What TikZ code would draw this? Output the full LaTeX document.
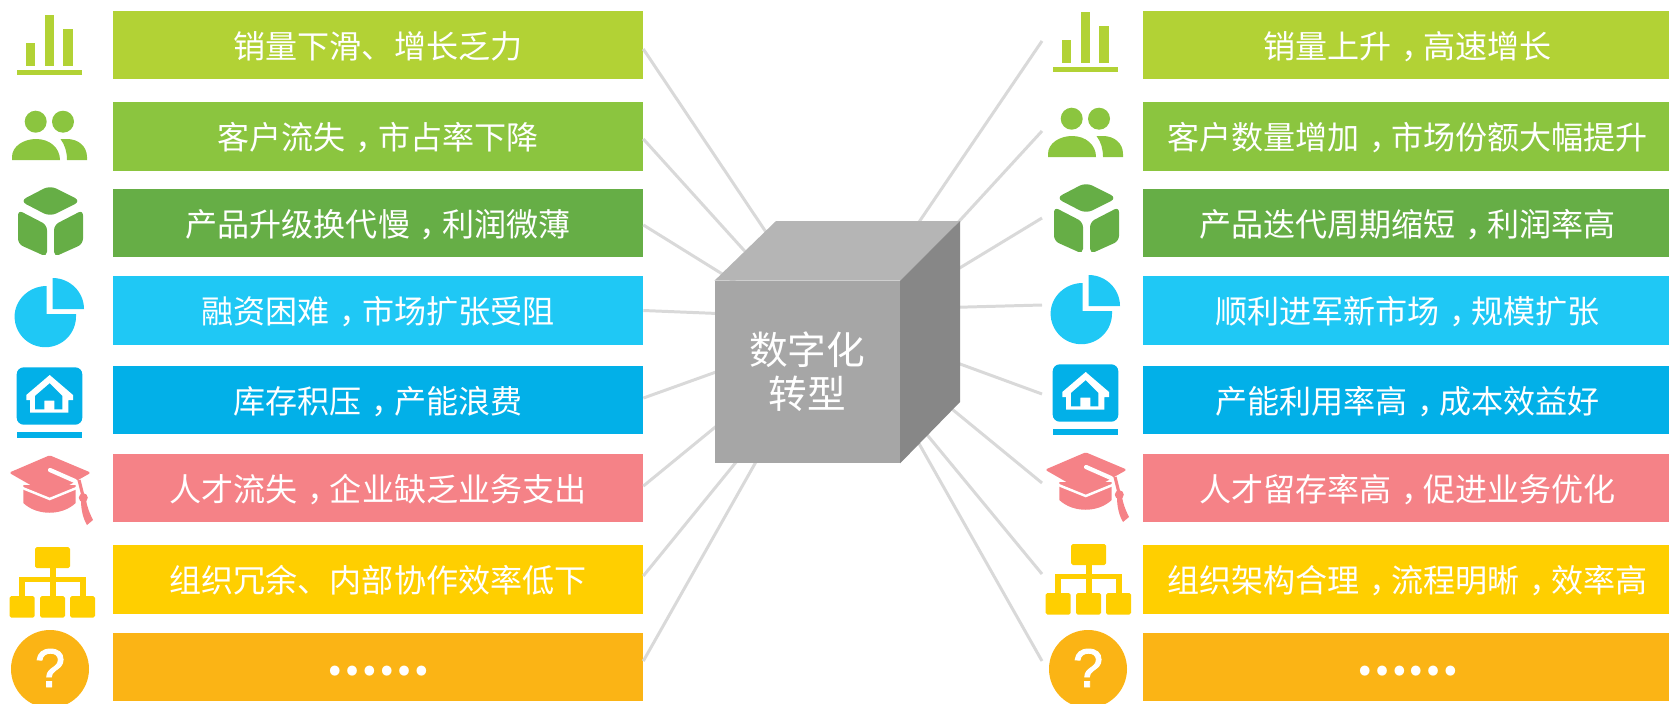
\documentclass[tikz,border=0pt]{standalone}
\usepackage{fontspec}
\setmainfont{Noto Sans CJK SC}
\newfontfamily\latfont[FakeBold=1.6]{Liberation Sans}
\definecolor{cone}{HTML}{B2D235}
\definecolor{ctwo}{HTML}{8BC53F}
\definecolor{cthree}{HTML}{66AE46}
\definecolor{cfour}{HTML}{1FC8F5}
\definecolor{cfive}{HTML}{02B0E8}
\definecolor{csix}{HTML}{F58287}
\definecolor{cseven}{HTML}{FFCF00}
\definecolor{ceight}{HTML}{FBB415}
\newcommand{\dou}{\kern.3em ，\kern-.3em}
\newcommand{\dian}{\raisebox{2.3pt}[0pt][0pt]{\fontsize{26}{30}\selectfont\bfseries ……}}
\tikzset{
  barleft/.style={inner sep=0pt, minimum width=10.6cm, minimum height=1.37cm, text height=16.8pt, text depth=2pt, text=white, font=\fontsize{18.25}{22}\selectfont},
  barright/.style={barleft, minimum width=10.58cm},
  link/.style={draw=black!15, line width=1.7pt},
  cubefront/.style={fill=black!35, inner sep=0pt, minimum width=3.7cm, minimum height=3.64cm, text=white, align=center, font=\fontsize{22}{25}\selectfont},
}
% the seven icons that stand left and right of the bars
\newcommand{\rowicons}{
    % bars
    \fill[cone] (26,43) rectangle (35,66);
    \fill[cone] (45,15) rectangle (54,66);
    \fill[cone] (63,29) rectangle (73,66);
    \fill[cone] (17,70) rectangle (82,75);
    % people
    \fill[ctwo] (35.7,121.7) circle[radius=11];
    \fill[ctwo] (63,121.7) circle[radius=11];
    \fill[ctwo] (12,160) -- (12,157) .. controls (12,146) and (24,139) .. (36,139) .. controls (50,139) and (60,148) .. (60,160) -- cycle;
    \fill[ctwo] (60.5,139) -- (67,139) .. controls (78,139) and (87,146) .. (87,157) -- (87,160) -- (67,160) .. controls (67,152) and (65,145) .. (60.5,139) -- cycle;
    % cube
    \fill[cthree, rounded corners=4pt] (50,185.4) -- (81,201) -- (50,216.6) -- (20,201) -- cycle;
    \fill[cthree, rounded corners=3pt] (18,210) -- (47,225) -- (47,257) -- (18,244) -- cycle;
    \fill[cthree, rounded corners=3pt] (83,210) -- (54,225) -- (54,257) -- (83,244) -- cycle;
    % pie
    \fill[cfour] (46.7,286) .. controls (29,286) and (14.6,300) .. (14.6,316.5) .. controls (14.6,333.5) and (28.3,347.2) .. (45.3,347.2) .. controls (62.3,347.2) and (76,333.5) .. (76,316.5) -- (76,314) -- (46.7,314) -- cycle;
    \fill[cfour] (52.5,278) .. controls (70,278) and (84,292) .. (84,309) -- (52.5,309) -- cycle;
    % house
    \fill[cfive, rounded corners=4pt] (16.7,367.3) rectangle (82.3,424.7);
    \fill[cfive] (17,432) rectangle (82,438);
    \fill[white] (26.3,395) -- (49.7,375) -- (73,395) -- (73,400) -- (68.3,400) -- (68.3,412.7) -- (30,412.7) -- (30,400) -- (26.3,400) -- cycle;
    \fill[cfive] (35,396) -- (49.7,383.3) -- (62.3,396) -- (62.3,409.3) -- (54.3,409.3) -- (54.3,400.7) -- (44.3,400.7) -- (44.3,409.3) -- (35,409.3) -- cycle;
    % cap
    \fill[csix] (23.3,485) -- (75.7,485) -- (75.7,503) .. controls (62,516) and (37,516) .. (23.3,503) -- cycle;
    \draw[white, line width=1.4pt] (20,487) -- (49.7,499) -- (79,487);
    \fill[csix, rounded corners=1pt] (9,472.7) -- (49.7,455.3) -- (91,472.7) -- (49.7,496) -- cycle;
    \draw[white, line width=2.4pt, line cap=round] (50,470) -- (75,481);
    \draw[csix, line width=1.8pt] (79,480) -- (83.3,497);
    \fill[csix] (83.3,497.7) circle[radius=4.5];
    \fill[csix] (81,500) .. controls (81,512) and (84,520) .. (87,525) -- (93,520) .. controls (89,512) and (87,506) .. (86,500) -- cycle;
    % tree
    \fill[cseven, rounded corners=1pt] (35,547) rectangle (70,568);
    \fill[cseven] (50,568) rectangle (55.7,596);
    \fill[cseven] (19,577) rectangle (86,582);
    \fill[cseven] (19,577) rectangle (25,596);
    \fill[cseven] (80,577) rectangle (86,596);
    \fill[cseven, rounded corners=1pt] (9.7,596) rectangle (34.7,617.7);
    \fill[cseven, rounded corners=1pt] (40,596) rectangle (65,617.7);
    \fill[cseven, rounded corners=1pt] (70,596) rectangle (95,617.7);
}
\begin{document}
\begin{tikzpicture}[x=0.02cm, y=-0.02cm]
    \useasboundingbox (0,0) rectangle (1669,703);
    \clip (0,0) rectangle (1669,703);
    % left bars
    \node[barleft, fill=cone] (barL1) at(378,45) {销量下滑、增长乏力};
    \node[barleft, fill=ctwo] (barL2) at(378,136.5) {客户流失\dou 市占率下降};
    \node[barleft, fill=cthree] (barL3) at(378,223) {产品升级换代慢\dou 利润微薄};
    \node[barleft, fill=cfour] (barL4) at(378,310.5) {融资困难\dou 市场扩张受阻};
    \node[barleft, fill=cfive] (barL5) at(378,400) {库存积压\dou 产能浪费};
    \node[barleft, fill=csix] (barL6) at(378,488) {人才流失\dou 企业缺乏业务支出};
    \node[barleft, fill=cseven] (barL7) at(378,579.5) {组织冗余、内部协作效率低下};
    \node[barleft, fill=ceight] (barL8) at(378,667) {\dian};
    % right bars
    \node[barright, fill=cone] (barR1) at(1407.5,45) {销量上升\dou 高速增长};
    \node[barright, fill=ctwo] (barR2) at(1407.5,136.5) {客户数量增加\dou 市场份额大幅提升};
    \node[barright, fill=cthree] (barR3) at(1407.5,223) {产品迭代周期缩短\dou 利润率高};
    \node[barright, fill=cfour] (barR4) at(1407.5,310.5) {顺利进军新市场\dou 规模扩张};
    \node[barright, fill=cfive] (barR5) at(1407.5,400) {产能利用率高\dou 成本效益好};
    \node[barright, fill=csix] (barR6) at(1407.5,488) {人才留存率高\dou 促进业务优化};
    \node[barright, fill=cseven] (barR7) at(1407.5,579.5) {组织架构合理\dou 流程明晰\dou 效率高};
    \node[barright, fill=ceight] (barR8) at(1407.5,667) {\dian};
    % ends of the lines behind the cube
    \coordinate (hubL1) at(780,253);
    \coordinate (hubL2) at(760,268);
    \coordinate (hubL3) at(740,285);
    \coordinate (hubL4) at(730,314);
    \coordinate (hubL5) at(730,367);
    \coordinate (hubL6) at(730,415);
    \coordinate (hubL7) at(750,445);
    \coordinate (hubL8) at(770,437);
    \coordinate (hubR1) at(900,250);
    \coordinate (hubR2) at(930,253);
    \coordinate (hubR3) at(930,286);
    \coordinate (hubR4) at(930,308);
    \coordinate (hubR5) at(930,353);
    \coordinate (hubR6) at(930,391);
    \coordinate (hubR7) at(900,402);
    \coordinate (hubR8) at(900,410);
    % free ends on the right
    \coordinate (endR1) at(1042,41);
    \coordinate (endR2) at(1042,131);
    \coordinate (endR3) at(1042,218);
    \coordinate (endR4) at(1042,305);
    \coordinate (endR5) at(1042,394);
    \coordinate (endR6) at(1042,483);
    \coordinate (endR7) at(1042,574);
    \coordinate (endR8) at(1042,661);
    \draw[link] ([yshift=-2.3pt]barL1.east) -- (hubL1);
    \draw[link] ([yshift=-1.4pt]barL2.east) -- (hubL2);
    \draw[link] ([yshift=-1.1pt]barL3.east) -- (hubL3);
    \draw[link] (barL4.east) -- (hubL4);
    \draw[link] ([yshift=1.1pt]barL5.east) -- (hubL5);
    \draw[link] ([yshift=1.1pt]barL6.east) -- (hubL6);
    \draw[link] ([yshift=2pt]barL7.east) -- (hubL7);
    \draw[link] ([yshift=3.4pt]barL8.east) -- (hubL8);
    \draw[link] (hubR1) -- (endR1);
    \draw[link] (hubR2) -- (endR2);
    \draw[link] (hubR3) -- (endR3);
    \draw[link] (hubR4) -- (endR4);
    \draw[link] (hubR5) -- (endR5);
    \draw[link] (hubR6) -- (endR6);
    \draw[link] (hubR7) -- (endR7);
    \draw[link] (hubR8) -- (endR8);
    % cube
    \node[cubefront] (cube) at(807.3,372) {数字化\\转型};
    \fill[black!29] (cube.north west) -- (776,221) -- (960,221) -- (cube.north east) -- cycle;
    \fill[black!47] (cube.north east) -- (960,221) -- (960,402) -- (cube.south east) -- cycle;
    % icons
    \rowicons
    \begin{scope}[shift={(1036,-3)}]
    \rowicons
    \end{scope}
    \fill[ceight] (50,669) circle[radius=39];
    \fill[ceight] (1088,669) circle[radius=39];
    \node[text=white, font=\latfont\fontsize{31}{31}\selectfont] (askL) at(50,668) {?};
    \node[text=white, font=\latfont\fontsize{31}{31}\selectfont] (askR) at(1088,668) {?};
\end{tikzpicture}
\end{document}
